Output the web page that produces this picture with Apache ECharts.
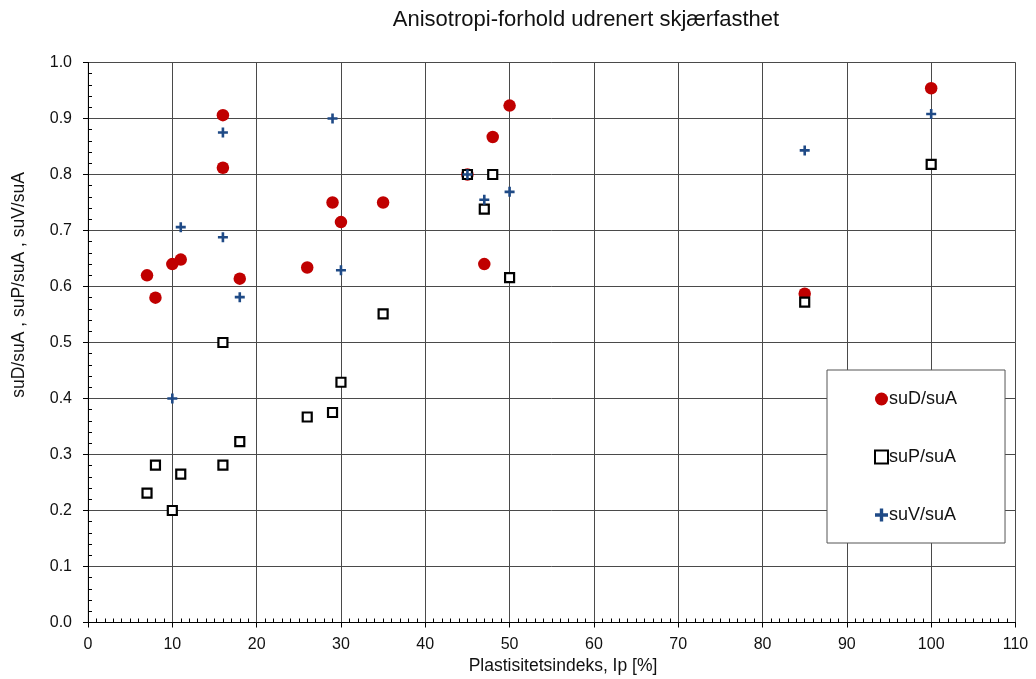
<!DOCTYPE html>
<html>
<head>
<meta charset="utf-8">
<script src="https://cdn.jsdelivr.net/npm/echarts@6/dist/echarts.min.js"></script>
<style>html,body{margin:0;padding:0;background:#fff}#c{width:1036px;height:679px}</style>
</head>
<body>
<div id="c"></div>
<script>
const titleText = 'Anisotropi-forhold udrenert skjærfasthet';
const xTitle = 'Plastisitetsindeks, Ip [%]';
const yTitle = 'suD/suA , suP/suA , suV/suA';
const seriesNames = ['suD/suA', 'suP/suA', 'suV/suA'];

const ipD = [7, 8, 10, 11, 16, 16, 18, 26, 29, 30, 35, 45, 47, 48, 50, 85, 100];
const suD = [0.62, 0.58, 0.64, 0.648, 0.906, 0.812, 0.614, 0.634, 0.75, 0.715, 0.75, 0.80, 0.64, 0.867, 0.923, 0.587, 0.954];

const ipP = [7, 8, 10, 11, 16, 16, 18, 26, 29, 30, 35, 45, 47, 48, 50, 85, 100];
const suP = [0.231, 0.281, 0.2, 0.265, 0.5, 0.281, 0.323, 0.367, 0.375, 0.429, 0.551, 0.8, 0.738, 0.8, 0.616, 0.572, 0.818];

const ipV = [10, 11, 16, 16, 18, 29, 30, 45, 47, 50, 85, 100];
const suV = [0.4, 0.706, 0.875, 0.688, 0.581, 0.9, 0.629, 0.8, 0.755, 0.769, 0.843, 0.908];

const pair = (xs, ys) => xs.map((x, i) => [x, ys[i]]);
const FONT = '"Liberation Sans", Arial, sans-serif';
const plusPath = 'path://M3.7,0H6.3V3.7H10V6.3H6.3V10H3.7V6.3H0V3.7H3.7Z';

const chart = echarts.init(document.getElementById('c'), null, {renderer: 'canvas'});
chart.setOption({
  backgroundColor: '#fff',
  animation: false,
  textStyle: {fontFamily: FONT},
  grid: {left: 88, right: 20.5, top: 62.5, bottom: 56.5, show: true, borderColor: '#c8c8c8', borderWidth: 1},
  xAxis: {
    type: 'value', min: 0, max: 110, interval: 10,
    axisLine: {show: true, onZero: false, lineStyle: {color: '#000', width: 1}},
    axisTick: {show: true, inside: false, length: 5, lineStyle: {color: '#000'}},
    minorTick: {show: true, splitNumber: 10, length: -4, lineStyle: {color: '#000'}},
    axisLabel: {fontSize: 16, color: '#111', margin: 14, fontFamily: FONT},
    splitLine: {show: true, lineStyle: {color: '#4a4a4a', width: 1}}
  },
  yAxis: {
    type: 'value', min: 0, max: 1, interval: 0.1,
    axisLine: {show: true, onZero: false, lineStyle: {color: '#000', width: 1}},
    axisTick: {show: true, inside: false, length: 5, lineStyle: {color: '#000'}},
    minorTick: {show: true, splitNumber: 5, length: -4, lineStyle: {color: '#000'}},
    axisLabel: {fontSize: 16, color: '#111', margin: 16, fontFamily: FONT, formatter: v => v.toFixed(1)},
    splitLine: {show: true, lineStyle: {color: '#4a4a4a', width: 1}}
  },
  legend: {
    orient: 'vertical', left: 827, top: 370,
    padding: [20, 48, 19, 47],
    itemGap: 40, itemWidth: 13, itemHeight: 13,
    backgroundColor: '#fff', borderColor: '#555', borderWidth: 1,
    textStyle: {fontSize: 18, color: '#111', fontFamily: FONT, padding: [0, 0, 0, -4]},
    data: seriesNames
  },
  graphic: [
    {type: 'text', x: 586, y: 20, style: {text: titleText, font: '22px ' + FONT, fill: '#111', align: 'center', verticalAlign: 'middle'}},
    {type: 'text', x: 563, y: 666, style: {text: xTitle, font: '17.5px ' + FONT, fill: '#111', align: 'center', verticalAlign: 'middle'}},
    {type: 'text', x: 19, y: 285, rotation: Math.PI / 2, style: {text: yTitle, font: '17.5px ' + FONT, fill: '#111', align: 'center', verticalAlign: 'middle'}}
  ],
  series: [
    {name: seriesNames[0], type: 'scatter', data: pair(ipD, suD), symbol: 'circle', symbolSize: 12.5,
     itemStyle: {color: '#C00000', opacity: 1}},
    {name: seriesNames[1], type: 'scatter', data: pair(ipP, suP), symbol: 'rect', symbolSize: 9,
     itemStyle: {color: '#fff', borderColor: '#000', borderWidth: 2.2, opacity: 1}},
    {name: seriesNames[2], type: 'scatter', data: pair(ipV, suV), symbol: plusPath, symbolSize: 10,
     itemStyle: {color: '#1F4A86', opacity: 1}}
  ]
});
</script>
</body>
</html>
